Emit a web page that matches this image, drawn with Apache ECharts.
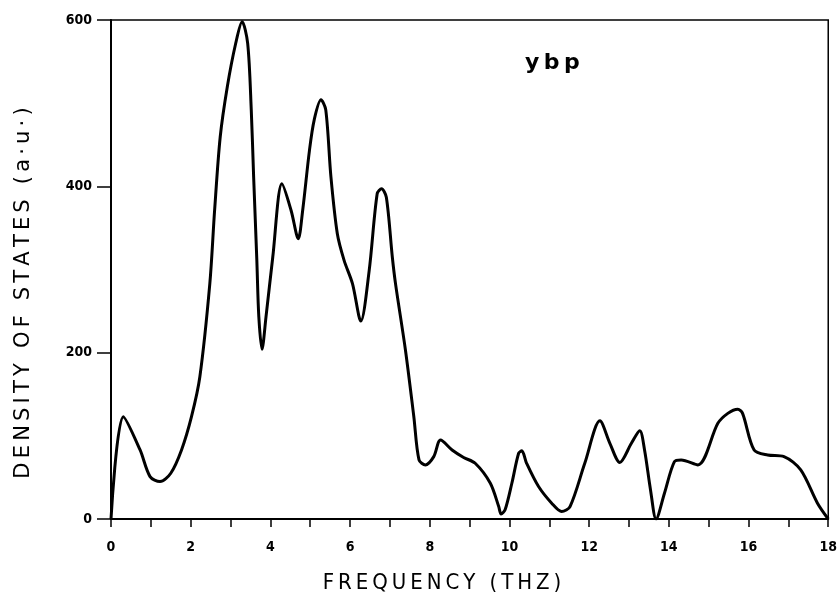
<!DOCTYPE html>
<html>
<head>
<meta charset="utf-8">
<script src="https://cdn.jsdelivr.net/npm/echarts@6/dist/echarts.min.js"></script>
<style>html,body{margin:0;padding:0;background:#fff}#c{width:840px;height:603px}</style>
</head>
<body>
<div id="c"></div>
<script>
// Frequency (THz)
const freq = [0,0.31,0.73,0.98,1.23,1.5,1.77,2.02,2.23,2.48,2.6,2.74,2.92,3.13,3.29,3.43,3.52,3.58,3.66,3.71,3.79,3.89,4.06,4.29,4.52,4.7,4.81,4.98,5.1,5.27,5.39,5.52,5.68,5.85,6.06,6.27,6.48,6.68,6.79,6.91,7.06,7.14,7.39,7.6,7.73,7.89,8.1,8.27,8.56,8.85,9.14,9.52,9.73,9.79,9.89,10.06,10.23,10.31,10.43,10.73,11.06,11.31,11.52,11.89,12.27,12.52,12.77,13.06,13.27,13.39,13.54,13.68,13.89,14.14,14.31,14.73,15.23,15.48,15.73,15.85,16.14,16.48,16.89,17.31,17.73,18];
// Density of states (a.u.)
const dos  = [0,123,83,51,45,55,83,123,171,283,371,459,520,572,598,572,492,411,311,243,204,243,315,403,371,337,371,443,480,504,492,411,343,311,283,238,299,391,397,387,315,283,203,123,71,65,75,95,83,74,67,43,15,6,11,43,79,82,67,39,19,9,15,67,118,91,68,91,106,83,35,0,31,69,71,65,115,127,132,127,83,77,75,59,19,0];
const xTicks = [0,2,4,6,8,10,12,14,16,18];
const yTicks = [0,200,400,600];
const sampleLabel = 'ybp';
const xTitle = 'FREQUENCY (THZ)';
const yTitle = 'DENSITY OF STATES (a·u·)';

const spaced = s => s.split('').join('\u2009');
const pts = freq.map((f,i)=>[f,dos[i]]);
const chart = echarts.init(document.getElementById('c'), null, {renderer:'canvas'});
const lblFont = {color:'#000',fontFamily:'DejaVu Sans Condensed, DejaVu Sans',fontWeight:'bold',fontSize:14};
chart.setOption({
  backgroundColor:'#fff',
  animation:false,
  grid:{left:111,right:10,top:20,bottom:84,show:true,borderColor:'#000',borderWidth:1.5,backgroundColor:'transparent'},
  xAxis:{type:'value',min:0,max:18,interval:1,
    axisLine:{lineStyle:{color:'#000',width:2}},
    axisTick:{inside:false,length:8,lineStyle:{color:'#000',width:1.5}},
    splitLine:{show:false},
    axisLabel:Object.assign({margin:21,formatter:v=>xTicks.indexOf(v)>=0?String(v):''},lblFont)
  },
  yAxis:{type:'value',min:0,max:600,interval:200,
    axisLine:{lineStyle:{color:'#000',width:2}},
    axisTick:{inside:false,length:14,lineStyle:{color:'#000',width:1.5}},
    splitLine:{show:false},
    axisLabel:Object.assign({margin:19,formatter:v=>yTicks.indexOf(v)>=0?String(v):''},lblFont)
  },
  graphic:[
    {type:'text',left:525,top:52,style:{text:spaced(sampleLabel),font:'bold 22px "DejaVu Sans"',fill:'#000'}},
    {type:'text',x:442,y:583,style:{text:spaced(xTitle),font:'22px "DejaVu Sans Condensed"',fill:'#000',textAlign:'center',textVerticalAlign:'middle'}},
    {type:'text',x:24,y:293,rotation:Math.PI/2,style:{text:spaced(yTitle),font:'21px "DejaVu Sans"',fill:'#000',textAlign:'center',textVerticalAlign:'middle'}}
  ],
  series:[{type:'line',data:pts,smooth:0.3,showSymbol:false,clip:true,
    lineStyle:{color:'#000',width:3}}]
});
</script>
</body>
</html>
